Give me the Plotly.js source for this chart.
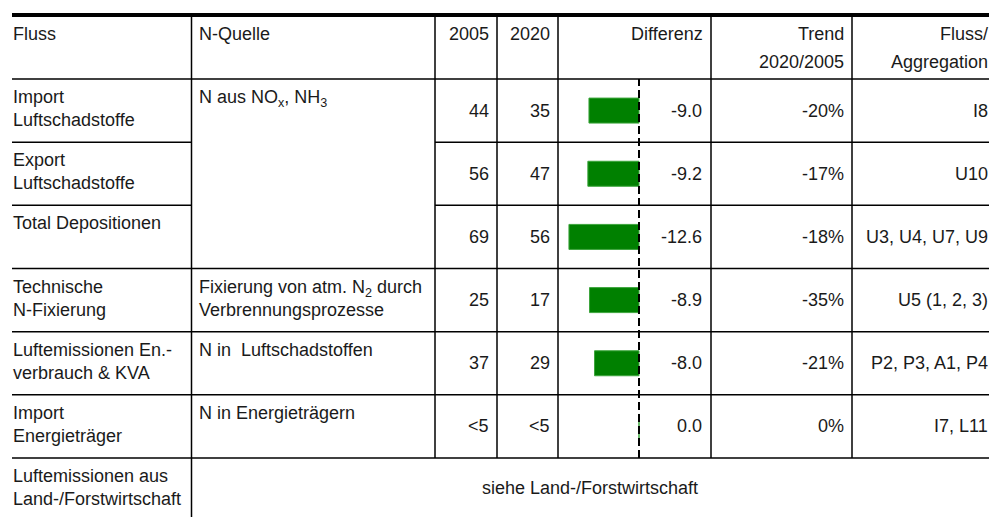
<!DOCTYPE html>
<html>
<head>
<meta charset="utf-8">
<script src="https://cdn.plot.ly/plotly-3.0.1.min.js"></script>
<style>
html,body{margin:0;padding:0;background:#fff;}
#chart{width:989px;height:517px;}
</style>
</head>
<body>
<div id="chart"></div>
<script>
// ---- data ----
const headers = ["Fluss", "N-Quelle", "2005", "2020", "Differenz", "Trend", "Fluss/"];
const headers2 = ["", "", "", "", "", "2020/2005", "Aggregation"];
const flows = ["Import<br>Luftschadstoffe", "Export<br>Luftschadstoffe", "Total Depositionen",
               "Technische<br>N-Fixierung", "Luftemissionen En.-<br>verbrauch & KVA", "Import<br>Energieträger"];
const sources = ["N aus NO<sub>x</sub>, NH<sub>3</sub>", "", "",
                 "Fixierung von atm. N<sub>2</sub> durch<br>Verbrennungsprozesse", "N in  Luftschadstoffen", "N in Energieträgern"];
const values2005 = ["44", "56", "69", "25", "37", "<5"];
const values2020 = ["35", "47", "56", "17", "29", "<5"];
const differenz = [-9.0, -9.2, -12.6, -8.9, -8.0, 0.0];
const trend = ["-20%", "-17%", "-18%", "-35%", "-21%", "0%"];
const aggregation = ["I8", "U10", "U3, U4, U7, U9", "U5 (1, 2, 3)", "P2, P3, A1, P4", "I7, L11"];
const lastRowFlow = "Luftemissionen aus<br>Land-/Forstwirtschaft";
const lastRowNote = "siehe Land-/Forstwirtschaft";

// ---- layout helpers ----
const W = 989, H = 517;
const px = x => x / W;
const py = y => 1 - y / H;
const tableTop = 17, headTop = 79, rowH = 63.17, nRows = flows.length;
const rowsBottom = headTop + nRows * rowH;
const colX = [12, 191.5, 435, 497, 558, 711, 852, 996];
const FONT = {family: "Liberation Sans, Arial, sans-serif", size: 18, color: "#1a1a1a"};
const rowTop = i => headTop + i * rowH;
const rowMid = i => headTop + (i + 0.5) * rowH;

const annotations = [];
function ann(text, x, y, xanchor, yanchor, align) {
  annotations.push({text: String(text).replace(/<(?=\d)/g, "&lt;"),
    xref: "paper", yref: "paper", x: px(x), y: py(y), xanchor: xanchor, yanchor: yanchor,
    align: align || xanchor, showarrow: false, font: FONT, borderpad: 0, borderwidth: 0});
}
// header
ann(headers[0], colX[0] + 1, tableTop + 7, "left", "top");
ann(headers[1], colX[1] + 7, tableTop + 7, "left", "top");
for (let c = 2; c < 7; c++) {
  ann(headers[c], colX[c + 1] - 8, tableTop + 7, "right", "top");
  if (headers2[c]) ann(headers2[c], colX[c + 1] - 8, tableTop + 35, "right", "top");
}
// rows
for (let i = 0; i < nRows; i++) {
  ann(flows[i], colX[0] + 1, rowTop(i) + 8, "left", "top");
  if (sources[i]) ann(sources[i], colX[1] + 7, rowTop(i) + 8, "left", "top");
  ann(values2005[i], colX[3] - 8, rowMid(i), "right", "middle");
  ann(values2020[i], colX[4] - 8, rowMid(i), "right", "middle");
  ann(differenz[i].toFixed(1), colX[5] - 9, rowMid(i), "right", "middle");
  ann(trend[i], colX[6] - 8, rowMid(i), "right", "middle");
  ann(aggregation[i], colX[7] - 8, rowMid(i), "right", "middle");
}
// last row
ann(lastRowFlow, colX[0] + 1, rowsBottom + 8, "left", "top");
ann(lastRowNote, (colX[1] + 989) / 2, (rowsBottom + H) / 2, "center", "middle");

// ---- grid lines ----
const shapes = [];
function hline(y, x0, x1, w) {
  shapes.push({type: "line", xref: "paper", yref: "paper", x0: px(x0), x1: px(x1), y0: py(y), y1: py(y),
    line: {color: "#000", width: w || 1.5}});
}
function vline(x, y0, y1) {
  shapes.push({type: "line", xref: "paper", yref: "paper", x0: px(x), x1: px(x), y0: py(y0), y1: py(y1),
    line: {color: "#000", width: 1.5}});
}
hline(15, colX[0], 989, 4);
hline(headTop, colX[0], 989);
for (let i = 1; i <= nRows; i++) {
  const y = rowTop(i);
  if (i === 1 || i === 2) { hline(y, colX[0], colX[1]); hline(y, colX[2], 989); }
  else hline(y, colX[0], 989);
}
vline(colX[1], tableTop, H);
for (let c = 2; c <= 6; c++) vline(colX[c], tableTop, rowsBottom);
// dashed zero line on the bar axis
shapes.push({type: "line", xref: "x", yref: "paper", x0: 0, x1: 0, y0: py(rowsBottom), y1: py(headTop),
  line: {color: "#000", width: 2, dash: "8px,4px"}});

// ---- bar axis ----
const zeroX = 639, pxPerUnit = 5.56;
const xr = [-(zeroX - colX[4]) / pxPerUnit, (colX[5] - zeroX) / pxPerUnit];

const trace = {
  type: "bar", orientation: "h",
  x: differenz, y: flows.map((f, i) => i),
  marker: {color: "#008000", line: {width: 1, color: "#3da53d"}},
  width: 25 / rowH, hoverinfo: "skip"
};

const layout = {
  width: W, height: H, margin: {l: 0, r: 0, t: 0, b: 0},
  paper_bgcolor: "#fff", plot_bgcolor: "rgba(0,0,0,0)", showlegend: false,
  xaxis: {domain: [px(colX[4]), px(colX[5])], range: xr, visible: false, fixedrange: true},
  yaxis: {domain: [py(rowsBottom), py(headTop)], range: [nRows - 0.5, -0.5], visible: false, fixedrange: true},
  shapes: shapes, annotations: annotations
};
Plotly.newPlot("chart", [trace], layout, {staticPlot: true, displayModeBar: false});
</script>
</body>
</html>
